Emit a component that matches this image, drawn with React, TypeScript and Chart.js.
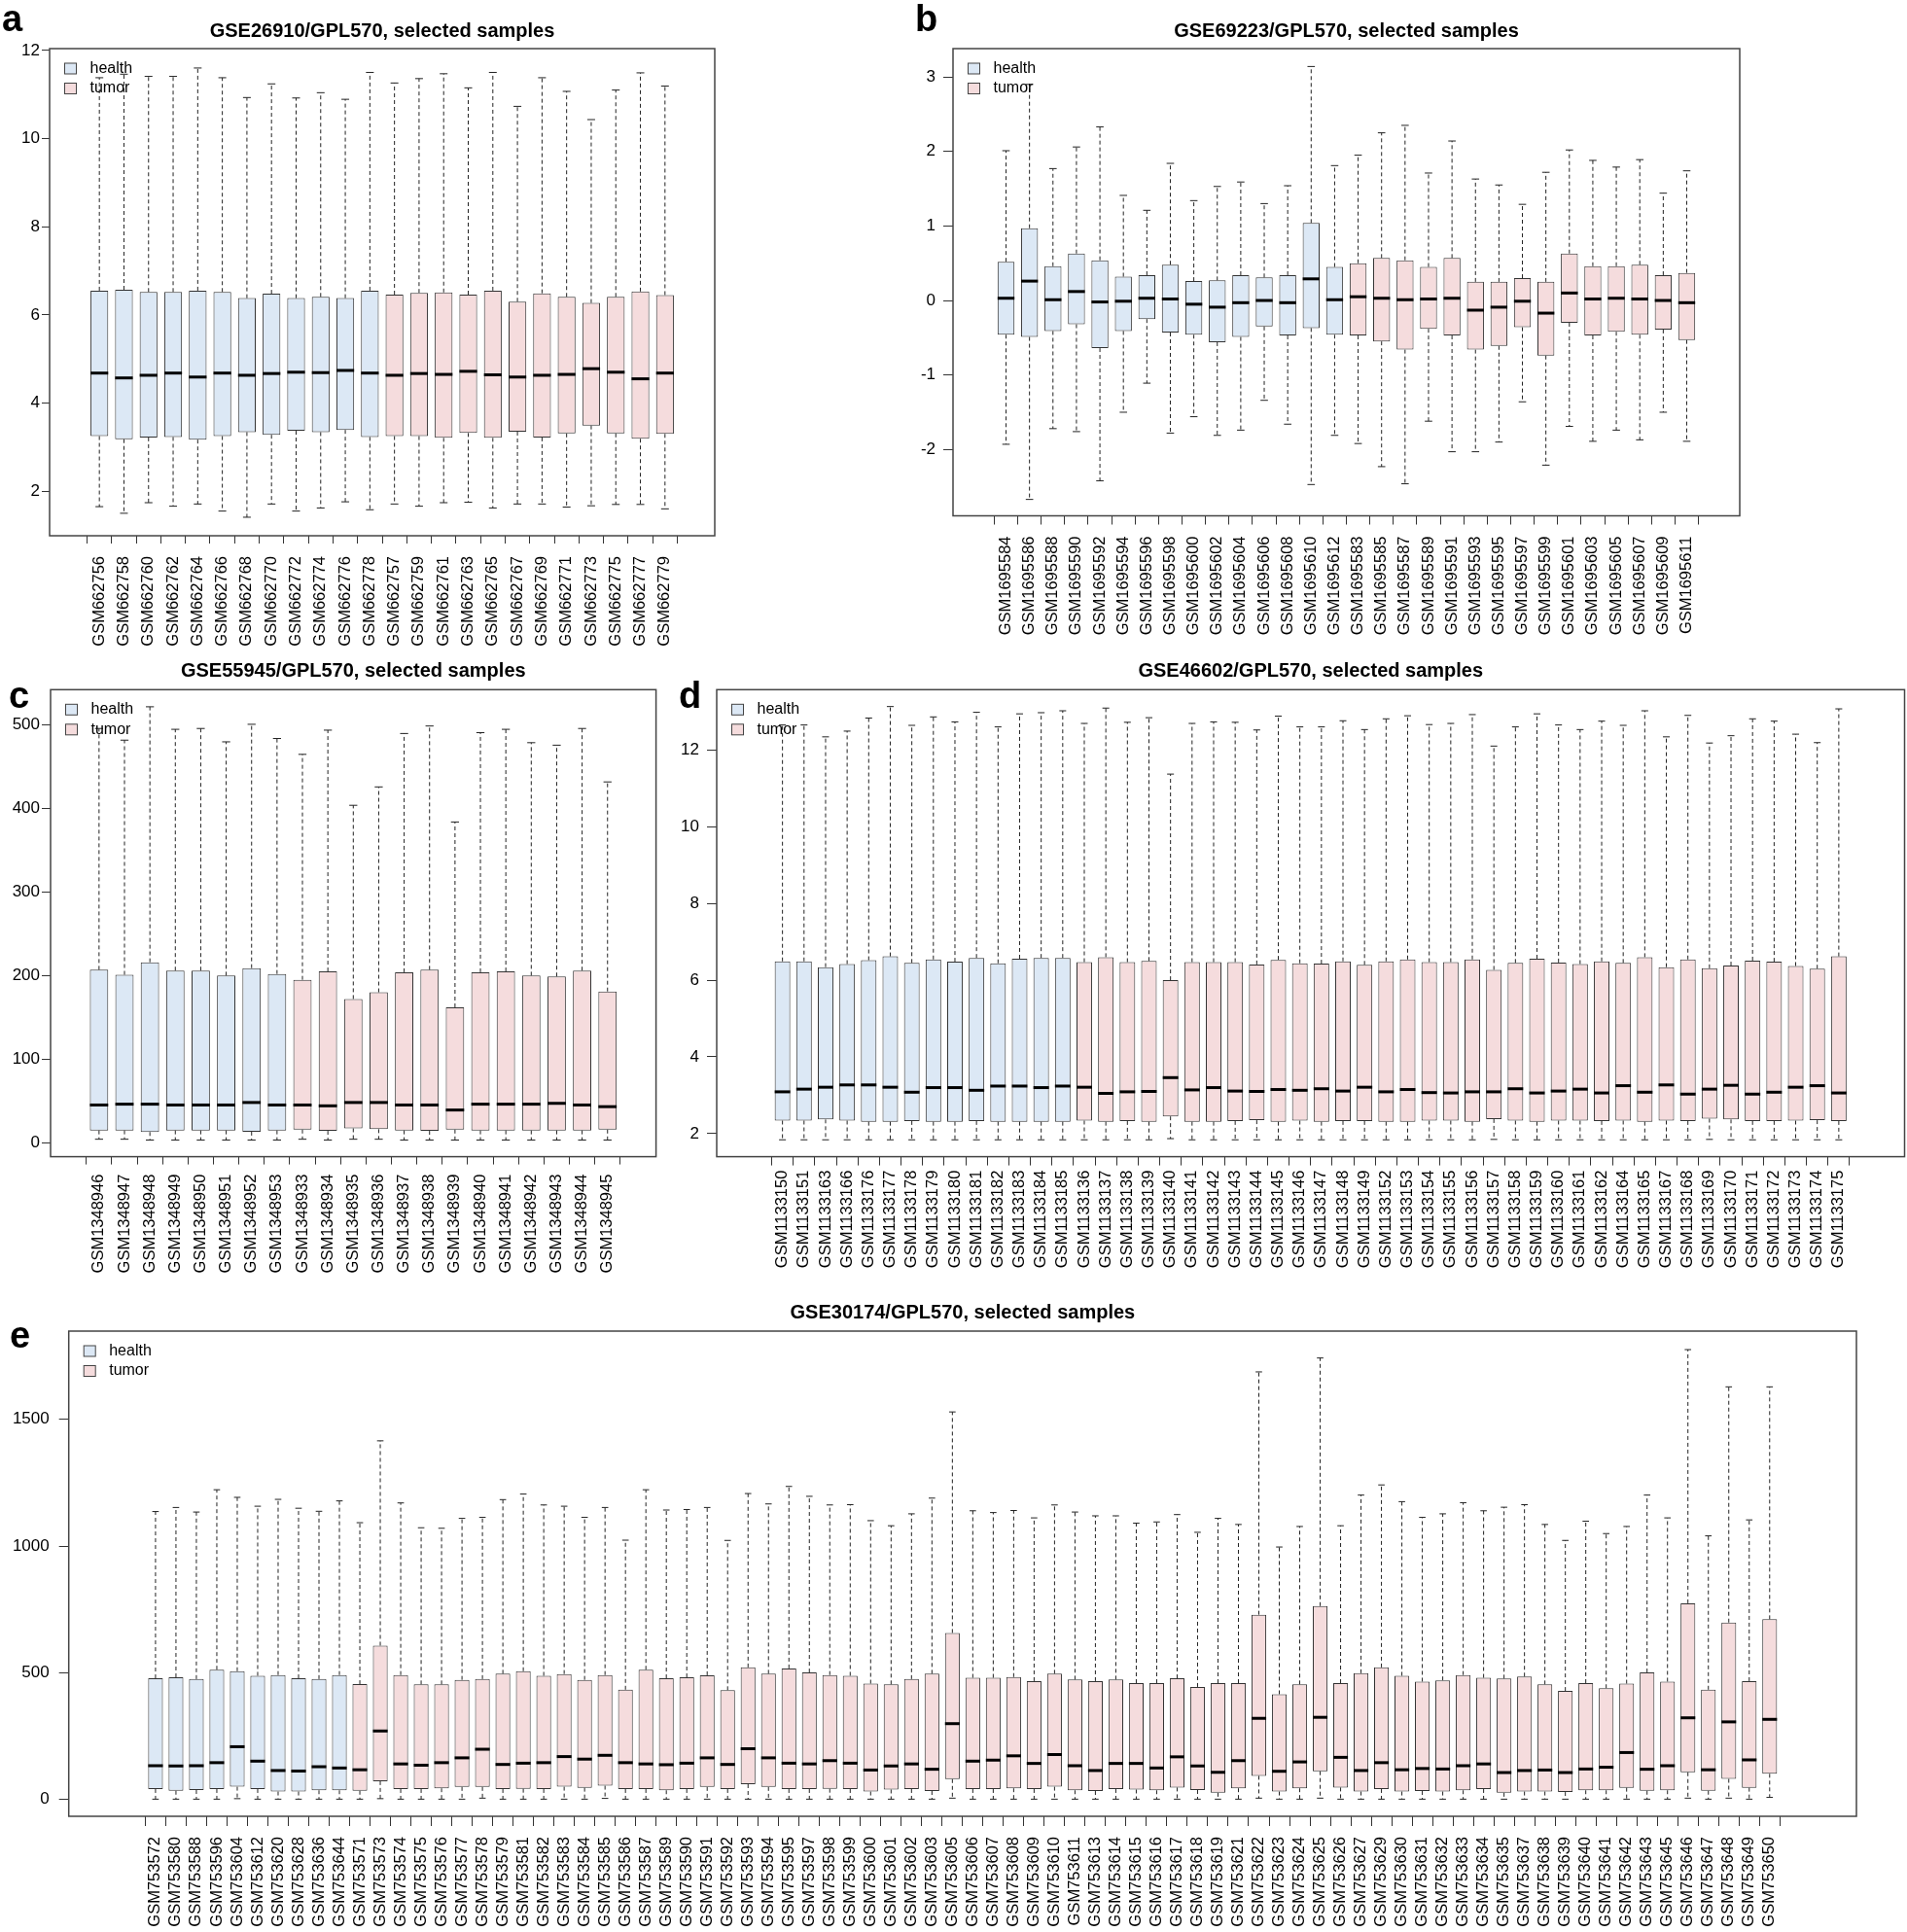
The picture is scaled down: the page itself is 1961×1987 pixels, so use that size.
import React, { useEffect, useRef } from 'react';
import { Chart, registerables } from 'chart.js';
Chart.register(...registerables);

const FONT = "'Liberation Sans', Arial, Helvetica, sans-serif";
const HEALTH_FILL = '#dce8f5';
const TUMOR_FILL = '#f5dcdd';
const EDGE = '#333333';
const SERIES_NAMES = ['health', 'tumor'];

// ---------- Panel a: GSE26910 ----------
const aTitle = 'GSE26910/GPL570, selected samples';
const aLabels = ['GSM662756','GSM662758','GSM662760','GSM662762','GSM662764','GSM662766','GSM662768','GSM662770','GSM662772','GSM662774','GSM662776','GSM662778','GSM662757','GSM662759','GSM662761','GSM662763','GSM662765','GSM662767','GSM662769','GSM662771','GSM662773','GSM662775','GSM662777','GSM662779'];
const aHealthCount = 12;
const aLow = [1.65,1.50,1.74,1.66,1.71,1.55,1.41,1.71,1.55,1.62,1.76,1.58,1.71,1.66,1.74,1.75,1.62,1.71,1.71,1.64,1.67,1.70,1.70,1.60];
const aQ1 = [3.25,3.18,3.22,3.23,3.17,3.25,3.34,3.28,3.37,3.34,3.39,3.23,3.25,3.25,3.21,3.32,3.21,3.35,3.22,3.31,3.49,3.31,3.19,3.30];
const aMed = [4.68,4.57,4.63,4.68,4.59,4.68,4.63,4.67,4.70,4.69,4.74,4.68,4.63,4.67,4.65,4.72,4.64,4.59,4.63,4.65,4.78,4.70,4.55,4.68];
const aQ3 = [6.55,6.57,6.52,6.52,6.55,6.52,6.38,6.48,6.38,6.41,6.38,6.55,6.46,6.50,6.51,6.46,6.55,6.30,6.49,6.41,6.27,6.41,6.53,6.45];
const aHigh = [11.38,11.46,11.41,11.41,11.60,11.38,10.93,11.24,10.92,11.04,10.89,11.50,11.26,11.36,11.47,11.15,11.50,10.73,11.38,11.07,10.43,11.10,11.49,11.19];
const aYTicks = [2, 4, 6, 8, 10, 12];

// ---------- Panel b: GSE69223 ----------
const bTitle = 'GSE69223/GPL570, selected samples';
const bLabels = ['GSM1695584','GSM1695586','GSM1695588','GSM1695590','GSM1695592','GSM1695594','GSM1695596','GSM1695598','GSM1695600','GSM1695602','GSM1695604','GSM1695606','GSM1695608','GSM1695610','GSM1695612','GSM1695583','GSM1695585','GSM1695587','GSM1695589','GSM1695591','GSM1695593','GSM1695595','GSM1695597','GSM1695599','GSM1695601','GSM1695603','GSM1695605','GSM1695607','GSM1695609','GSM1695611'];
const bHealthCount = 15;
const bLow = [-1.93,-2.67,-1.72,-1.76,-2.42,-1.50,-1.11,-1.78,-1.56,-1.81,-1.74,-1.34,-1.66,-2.47,-1.81,-1.92,-2.23,-2.46,-1.62,-2.03,-2.03,-1.90,-1.36,-2.21,-1.69,-1.89,-1.74,-1.87,-1.50,-1.89];
const bQ1 = [-0.46,-0.49,-0.41,-0.32,-0.64,-0.41,-0.25,-0.43,-0.46,-0.56,-0.49,-0.35,-0.47,-0.37,-0.46,-0.47,-0.55,-0.66,-0.38,-0.47,-0.66,-0.61,-0.36,-0.74,-0.30,-0.47,-0.42,-0.46,-0.39,-0.53];
const bMed = [0.03,0.26,0.01,0.12,-0.02,-0.01,0.03,0.02,-0.05,-0.09,-0.03,0.0,-0.03,0.29,0.01,0.05,0.03,0.01,0.02,0.03,-0.13,-0.09,-0.01,-0.17,0.10,0.02,0.03,0.02,0.0,-0.03];
const bQ3 = [0.52,0.97,0.46,0.63,0.54,0.32,0.34,0.48,0.26,0.27,0.34,0.31,0.34,1.04,0.45,0.50,0.57,0.54,0.45,0.57,0.25,0.25,0.30,0.25,0.63,0.46,0.46,0.48,0.34,0.37];
const bHigh = [2.01,2.90,1.77,2.06,2.33,1.41,1.21,1.84,1.34,1.53,1.59,1.30,1.54,3.14,1.81,1.95,2.25,2.35,1.71,2.14,1.63,1.55,1.29,1.72,2.02,1.88,1.79,1.89,1.44,1.74];
const bYTicks = [-2, -1, 0, 1, 2, 3];

// ---------- Panel c: GSE55945 ----------
const cTitle = 'GSE55945/GPL570, selected samples';
const cLabels = ['GSM1348946','GSM1348947','GSM1348948','GSM1348949','GSM1348950','GSM1348951','GSM1348952','GSM1348953','GSM1348933','GSM1348934','GSM1348935','GSM1348936','GSM1348937','GSM1348938','GSM1348939','GSM1348940','GSM1348941','GSM1348942','GSM1348943','GSM1348944','GSM1348945'];
const cHealthCount = 8;
const cLow = [4,4,3,3,3,3,3,3,4,3,4,4,3,3,3,3,3,3,3,3,3];
const cQ1 = [14.5,14.5,12.6,14.5,14.5,14.5,13,14.5,15.5,14,17,16,14.5,14,15.5,14.5,14.5,14.5,14.5,14.5,15.5];
const cMed = [45,46,46,45,45,45,48,45,45,44,48,48,45,45,39,46,46,46,47,45,43];
const cQ3 = [207,201,216,206,206,200,209,202,195,205,172,180,204,207,162,204,205,200,199,206,181];
const cHigh = [496,482,522,495,496,480,501,484,465,494,404,426,490,499,384,491,495,479,476,496,432];
const cYTicks = [0, 100, 200, 300, 400, 500];

// ---------- Panel d: GSE46602 ----------
const dTitle = 'GSE46602/GPL570, selected samples';
const dLabels = ['GSM1133150','GSM1133151','GSM1133163','GSM1133166','GSM1133176','GSM1133177','GSM1133178','GSM1133179','GSM1133180','GSM1133181','GSM1133182','GSM1133183','GSM1133184','GSM1133185','GSM1133136','GSM1133137','GSM1133138','GSM1133139','GSM1133140','GSM1133141','GSM1133142','GSM1133143','GSM1133144','GSM1133145','GSM1133146','GSM1133147','GSM1133148','GSM1133149','GSM1133152','GSM1133153','GSM1133154','GSM1133155','GSM1133156','GSM1133157','GSM1133158','GSM1133159','GSM1133160','GSM1133161','GSM1133162','GSM1133164','GSM1133165','GSM1133167','GSM1133168','GSM1133169','GSM1133170','GSM1133171','GSM1133172','GSM1133173','GSM1133174','GSM1133175'];
const dHealthCount = 14;
const dLow = [1.84,1.84,1.84,1.84,1.84,1.84,1.84,1.84,1.84,1.84,1.84,1.84,1.84,1.84,1.84,1.84,1.84,1.84,1.87,1.84,1.84,1.84,1.84,1.84,1.84,1.84,1.84,1.84,1.84,1.84,1.84,1.84,1.84,1.85,1.84,1.84,1.84,1.84,1.84,1.84,1.84,1.84,1.84,1.85,1.84,1.84,1.84,1.84,1.84,1.84];
const dQ1 = [2.34,2.34,2.37,2.34,2.31,2.31,2.33,2.31,2.31,2.33,2.31,2.31,2.31,2.31,2.34,2.31,2.33,2.31,2.45,2.31,2.31,2.33,2.35,2.31,2.34,2.31,2.33,2.33,2.31,2.31,2.34,2.34,2.31,2.38,2.34,2.31,2.34,2.34,2.33,2.34,2.31,2.34,2.33,2.39,2.37,2.33,2.33,2.34,2.35,2.33];
const dMed = [3.09,3.16,3.21,3.27,3.27,3.21,3.08,3.20,3.20,3.13,3.24,3.24,3.20,3.24,3.21,3.05,3.09,3.10,3.46,3.14,3.20,3.11,3.10,3.15,3.13,3.17,3.11,3.21,3.09,3.15,3.07,3.06,3.09,3.09,3.17,3.06,3.11,3.16,3.06,3.25,3.08,3.27,3.03,3.16,3.26,3.03,3.08,3.21,3.25,3.06];
const dQ3 = [6.49,6.49,6.34,6.42,6.52,6.62,6.45,6.54,6.48,6.58,6.44,6.56,6.58,6.58,6.47,6.60,6.47,6.50,6.00,6.47,6.47,6.47,6.41,6.53,6.44,6.43,6.49,6.40,6.49,6.54,6.47,6.47,6.54,6.27,6.45,6.56,6.46,6.42,6.49,6.45,6.60,6.34,6.54,6.31,6.38,6.51,6.48,6.37,6.30,6.62];
const dHigh = [12.65,12.65,12.34,12.49,12.83,13.13,12.64,12.86,12.73,12.98,12.60,12.94,12.97,13.02,12.69,13.09,12.72,12.84,11.37,12.69,12.73,12.72,12.52,12.88,12.60,12.60,12.76,12.53,12.81,12.89,12.66,12.69,12.92,12.10,12.60,12.94,12.65,12.53,12.75,12.64,13.02,12.34,12.90,12.18,12.37,12.81,12.75,12.41,12.19,13.07];
const dYTicks = [2, 4, 6, 8, 10, 12];

// ---------- Panel e: GSE30174 ----------
const eTitle = 'GSE30174/GPL570, selected samples';
const eLabels = ['GSM753572','GSM753580','GSM753588','GSM753596','GSM753604','GSM753612','GSM753620','GSM753628','GSM753636','GSM753644','GSM753571','GSM753573','GSM753574','GSM753575','GSM753576','GSM753577','GSM753578','GSM753579','GSM753581','GSM753582','GSM753583','GSM753584','GSM753585','GSM753586','GSM753587','GSM753589','GSM753590','GSM753591','GSM753592','GSM753593','GSM753594','GSM753595','GSM753597','GSM753598','GSM753599','GSM753600','GSM753601','GSM753602','GSM753603','GSM753605','GSM753606','GSM753607','GSM753608','GSM753609','GSM753610','GSM753611','GSM753613','GSM753614','GSM753615','GSM753616','GSM753617','GSM753618','GSM753619','GSM753621','GSM753622','GSM753623','GSM753624','GSM753625','GSM753626','GSM753627','GSM753629','GSM753630','GSM753631','GSM753632','GSM753633','GSM753634','GSM753635','GSM753637','GSM753638','GSM753639','GSM753640','GSM753641','GSM753642','GSM753643','GSM753645','GSM753646','GSM753647','GSM753648','GSM753649','GSM753650'];
const eHealthCount = 10;
const eLow = [1,1,1,1,3,1,1,1,1,1,1,3,1,1,1,1,5,1,1,1,1,1,4,1,1,1,1,1,1,1,1,1,1,1,1,1,1,1,1,5,1,1,1,1,1,1,1,1,1,1,1,1,1,1,5,1,1,5,1,1,1,1,1,1,1,1,1,1,1,1,1,1,1,1,1,5,1,5,1,8];
const eQ1 = [41,34,37,41,50,41,31,31,36,36,34,72,41,41,44,49,49,41,42,41,50,46,54,41,41,36,41,49,41,60,49,41,41,42,41,31,39,41,33,80,41,41,44,41,50,36,33,41,39,36,47,37,26,44,93,31,44,111,47,31,41,31,33,31,36,41,26,31,31,29,36,36,46,34,36,107,34,81,46,101];
const eMed = [133,132,133,145,208,151,114,112,129,124,117,270,140,135,145,164,198,138,143,145,169,159,174,145,140,137,143,164,138,200,164,143,140,153,143,116,132,140,119,299,151,155,172,142,177,133,114,142,142,124,168,132,107,153,320,111,148,324,166,114,145,117,122,120,133,140,106,114,116,106,120,127,185,119,133,322,117,306,156,316];
const eQ3 = [478,482,475,512,506,488,491,478,475,491,455,607,491,454,454,472,475,496,506,488,495,472,491,433,512,478,482,490,431,521,496,517,501,491,488,457,454,475,496,657,480,480,483,467,496,473,467,473,459,459,478,444,459,459,729,415,454,763,459,498,521,488,465,470,491,480,477,485,454,428,459,439,457,501,465,774,433,698,467,711];
const eHigh = [1136,1152,1134,1222,1192,1157,1184,1149,1137,1178,1092,1415,1170,1072,1070,1109,1113,1183,1205,1162,1157,1113,1152,1023,1222,1142,1144,1152,1022,1207,1166,1235,1196,1162,1163,1100,1080,1127,1189,1529,1139,1132,1140,1111,1162,1134,1119,1119,1090,1095,1124,1054,1109,1085,1687,996,1077,1742,1080,1201,1241,1175,1113,1127,1171,1139,1153,1163,1085,1022,1098,1049,1077,1201,1111,1775,1040,1628,1103,1628];
const eYTicks = [0, 500, 1000, 1500];

type Rect = { x: number; y: number; w: number; h: number };
type Area = { l: number; t: number; r: number; b: number };
interface PanelSpec {
  letter: string; title: string; labels: string[]; healthCount: number;
  low: number[]; q1: number[]; med: number[]; q3: number[]; high: number[];
  yTicks: number[]; yMin: number; yMax: number;
  canvas: Rect; area: Area; titleY: number; letterX: number; letterY: number;
  yTickLen: number; yTickPad: number; xTickLen: number; xTickPad: number;
}

const PANELS: PanelSpec[] = [
  { letter: 'a', title: aTitle, labels: aLabels, healthCount: aHealthCount, low: aLow, q1: aQ1, med: aMed, q3: aQ3, high: aHigh,
    yTicks: aYTicks, yMin: 0.99, yMax: 12.04,
    canvas: { x: 0, y: 0, w: 740, h: 680 }, area: { l: 51, t: 50, r: 735, b: 551 },
    titleY: 32.5, letterX: 2, letterY: 32, yTickLen: 8, yTickPad: 2, xTickLen: 8, xTickPad: 13 },
  { letter: 'b', title: bTitle, labels: bLabels, healthCount: bHealthCount, low: bLow, q1: bQ1, med: bMed, q3: bQ3, high: bHigh,
    yTicks: bYTicks, yMin: -2.89, yMax: 3.38,
    canvas: { x: 740, y: 0, w: 1221, h: 680 }, area: { l: 980, t: 50, r: 1789, b: 530.5 },
    titleY: 32.5, letterX: 941, letterY: 32, yTickLen: 10, yTickPad: 8, xTickLen: 9, xTickPad: 12 },
  { letter: 'c', title: cTitle, labels: cLabels, healthCount: cHealthCount, low: cLow, q1: cQ1, med: cMed, q3: cQ3, high: cHigh,
    yTicks: cYTicks, yMin: -16.9, yMax: 542.5,
    canvas: { x: 0, y: 670, w: 690, h: 650 }, area: { l: 52, t: 709.3, r: 674.6, b: 1189.6 },
    titleY: 690.7, letterX: 9, letterY: 728, yTickLen: 9, yTickPad: 2, xTickLen: 8, xTickPad: 10 },
  { letter: 'd', title: dTitle, labels: dLabels, healthCount: dHealthCount, low: dLow, q1: dQ1, med: dMed, q3: dQ3, high: dHigh,
    yTicks: dYTicks, yMin: 1.40, yMax: 13.57,
    canvas: { x: 690, y: 670, w: 1300, h: 650 }, area: { l: 737, t: 709.3, r: 1958.5, b: 1189.6 },
    titleY: 690.7, letterX: 698, letterY: 728, yTickLen: 10, yTickPad: 8, xTickLen: 9, xTickPad: 5 },
  { letter: 'e', title: eTitle, labels: eLabels, healthCount: eHealthCount, low: eLow, q1: eQ1, med: eMed, q3: eQ3, high: eHigh,
    yTicks: eYTicks, yMin: -66.6, yMax: 1848,
    canvas: { x: 0, y: 1320, w: 1961, h: 667 }, area: { l: 70.7, t: 1369, r: 1909, b: 1868 },
    titleY: 1350, letterX: 10, letterY: 1386, yTickLen: 10, yTickPad: 10, xTickLen: 10, xTickPad: 11 },
];

function buildChart(canvas: HTMLCanvasElement, p: PanelSpec) {
  const n = p.labels.length;
  const gap = 0.5 + 0.04 * n;
  const health: any[] = [];
  const tumor: any[] = [];
  for (let i = 0; i < n; i++) {
    const pt = { x: i, y: [p.q1[i], p.q3[i]] };
    (i < p.healthCount ? health : tumor).push(pt);
  }

  const eachBox = (chart: any, fn: (i: number, x: number, w: number) => void) => {
    chart.data.datasets.forEach((ds: any, di: number) => {
      const meta = chart.getDatasetMeta(di);
      meta.data.forEach((el: any, j: number) => {
        fn(ds.data[j].x, el.x, el.width);
      });
    });
  };

  const boxPlugin = {
    id: 'boxExtras',
    beforeDatasetsDraw(chart: any) {
      const ctx = chart.ctx;
      const ys = chart.scales.y;
      ctx.save();
      ctx.strokeStyle = '#222';
      ctx.lineWidth = 1;
      eachBox(chart, (i, x, w) => {
        const yq1 = ys.getPixelForValue(p.q1[i]);
        const yq3 = ys.getPixelForValue(p.q3[i]);
        const yl = ys.getPixelForValue(p.low[i]);
        const yh = ys.getPixelForValue(p.high[i]);
        ctx.setLineDash([4, 3]);
        ctx.beginPath();
        ctx.moveTo(x, yq3); ctx.lineTo(x, yh);
        ctx.moveTo(x, yq1); ctx.lineTo(x, yl);
        ctx.stroke();
        ctx.setLineDash([]);
        const sw = w * 0.22;
        ctx.beginPath();
        ctx.moveTo(x - sw, yh); ctx.lineTo(x + sw, yh);
        ctx.moveTo(x - sw, yl); ctx.lineTo(x + sw, yl);
        ctx.stroke();
      });
      ctx.restore();
    },
    afterDatasetsDraw(chart: any) {
      const ctx = chart.ctx;
      const ys = chart.scales.y;
      ctx.save();
      ctx.strokeStyle = '#000';
      ctx.lineWidth = 3;
      eachBox(chart, (i, x, w) => {
        const ym = ys.getPixelForValue(p.med[i]);
        ctx.beginPath();
        ctx.moveTo(x - w / 2, ym); ctx.lineTo(x + w / 2, ym);
        ctx.stroke();
      });
      ctx.restore();
    },
    afterDraw(chart: any) {
      const ctx = chart.ctx;
      const a = chart.chartArea;
      ctx.save();
      // frame
      ctx.strokeStyle = '#444';
      ctx.lineWidth = 1.5;
      ctx.strokeRect(a.left, a.top, a.right - a.left, a.bottom - a.top);
      // title
      ctx.fillStyle = '#000';
      ctx.font = `bold 20px ${FONT}`;
      ctx.textAlign = 'center';
      ctx.textBaseline = 'middle';
      ctx.fillText(p.title, (a.left + a.right) / 2, p.titleY - p.canvas.y);
      // panel letter
      ctx.font = `bold 38px ${FONT}`;
      ctx.textAlign = 'left';
      ctx.textBaseline = 'alphabetic';
      ctx.fillText(p.letter, p.letterX - p.canvas.x, p.letterY - p.canvas.y);
      // legend
      ctx.font = `16px ${FONT}`;
      ctx.textBaseline = 'middle';
      chart.data.datasets.forEach((ds: any, k: number) => {
        const sx = a.left + 15.5;
        const cy = a.top + 20.5 + k * 20.5;
        ctx.fillStyle = ds.backgroundColor;
        ctx.fillRect(sx, cy - 5.5, 12, 11);
        ctx.strokeStyle = '#444';
        ctx.lineWidth = 1;
        ctx.strokeRect(sx, cy - 5.5, 12, 11);
        ctx.fillStyle = '#000';
        ctx.fillText(ds.label, sx + 26, cy);
      });
      ctx.restore();
    },
  };

  const dsCommon = {
    borderColor: EDGE,
    borderWidth: 1,
    borderSkipped: false,
    grouped: false,
    barPercentage: 0.72,
    categoryPercentage: 1,
  };

  return new Chart(canvas, {
    type: 'bar',
    data: {
      datasets: [
        { ...dsCommon, label: SERIES_NAMES[0], data: health, backgroundColor: HEALTH_FILL },
        { ...dsCommon, label: SERIES_NAMES[1], data: tumor, backgroundColor: TUMOR_FILL },
      ],
    } as any,
    options: {
      responsive: false,
      maintainAspectRatio: false,
      animation: false,
      layout: {
        padding: {
          left: 0,
          bottom: 0,
          top: p.area.t - p.canvas.y,
          right: p.canvas.x + p.canvas.w - p.area.r,
        },
      },
      plugins: {
        legend: { display: false },
        tooltip: { enabled: false },
        title: { display: false },
      },
      scales: {
        x: {
          type: 'linear',
          min: -gap,
          max: n - 1 + gap,
          afterBuildTicks: (s: any) => { s.ticks = p.labels.map((_, i) => ({ value: i })); },
          afterFit: (s: any) => { s.height = p.canvas.y + p.canvas.h - p.area.b; },
          ticks: {
            autoSkip: false,
            minRotation: 90,
            maxRotation: 90,
            padding: p.xTickPad,
            color: '#000',
            font: { family: FONT, size: 16.5 },
            callback: (v: any) => p.labels[Math.round(Number(v))] ?? '',
          },
          grid: { display: true, drawOnChartArea: false, drawTicks: true, tickLength: p.xTickLen, color: '#333', lineWidth: 1 },
          border: { display: false },
        },
        y: {
          type: 'linear',
          min: p.yMin,
          max: p.yMax,
          afterBuildTicks: (s: any) => { s.ticks = p.yTicks.map((v) => ({ value: v })); },
          afterFit: (s: any) => { s.width = p.area.l - p.canvas.x; },
          ticks: {
            autoSkip: false,
            padding: p.yTickPad,
            color: '#000',
            font: { family: FONT, size: 17 },
            callback: (v: any) => String(v),
          },
          grid: { display: true, drawOnChartArea: false, drawTicks: true, tickLength: p.yTickLen, color: '#333', lineWidth: 1 },
          border: { display: false },
        },
      },
    } as any,
    plugins: [boxPlugin],
  });
}

function Panel({ spec }: { spec: PanelSpec }) {
  const ref = useRef<HTMLCanvasElement | null>(null);
  useEffect(() => {
    if (!ref.current) return;
    const chart = buildChart(ref.current, spec);
    return () => chart.destroy();
  }, [spec]);
  const c = spec.canvas;
  return (
    <canvas
      ref={ref}
      width={c.w}
      height={c.h}
      style={{ position: 'absolute', left: c.x, top: c.y, width: c.w, height: c.h }}
    />
  );
}

export default function App() {
  return (
    <div
      style={{
        position: 'absolute',
        left: 0,
        top: 0,
        width: 1961,
        height: 1987,
        overflow: 'hidden',
        background: '#ffffff',
      }}
    >
      {PANELS.map((p) => (
        <Panel key={p.letter} spec={p} />
      ))}
    </div>
  );
}
